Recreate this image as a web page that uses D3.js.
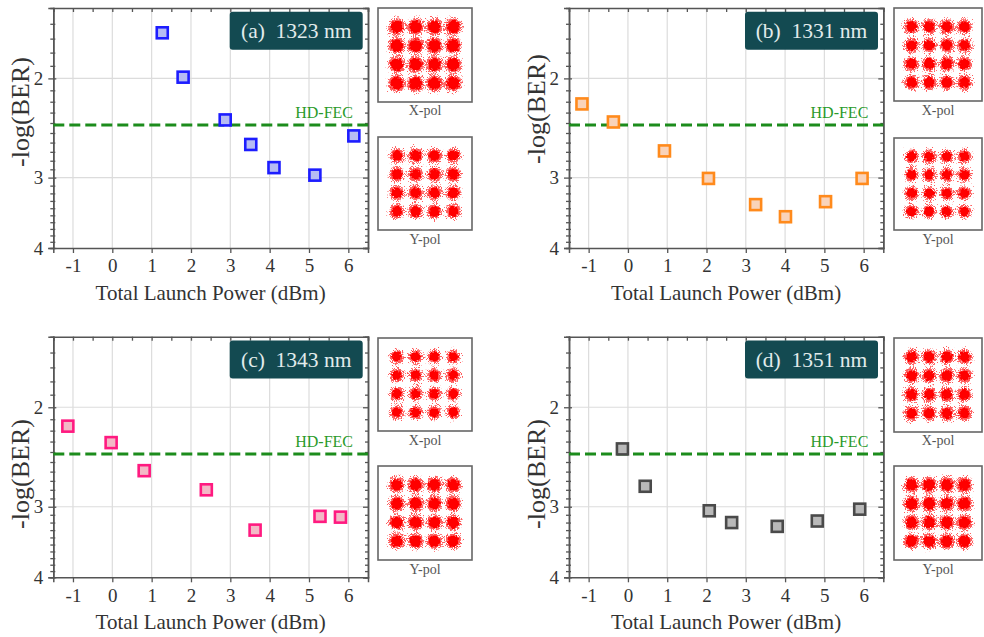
<!DOCTYPE html>
<html><head><meta charset="utf-8">
<script src="https://cdn.jsdelivr.net/npm/d3@7"></script>
<style>body{margin:0;background:#fff} svg{display:block}</style>
</head><body>
<svg id="c" width="984" height="637"></svg>
<script>
// ---------- data ----------
const xTickValues = [-1, 0, 1, 2, 3, 4, 5, 6];
const xMinorValues = [-1.5, -0.5, 0.5, 1.5, 2.5, 3.5, 4.5, 5.5, 6.5];
const yTickValues = [2, 3, 4];
const yMinorValues = [1.6, 1.7, 1.8, 1.9, 2.1, 2.2, 2.3, 2.4, 2.5, 2.6, 2.7, 2.8, 2.9, 3.1, 3.2, 3.3, 3.4, 3.5, 3.6, 3.7, 3.8, 3.9];
const hdFecLevel = 2.42;
const panelTitles = ["(a)  1323 nm", "(b)  1331 nm", "(c)  1343 nm", "(d)  1351 nm"];
const powerA = [1.27, 1.80, 2.87, 3.52, 4.11, 5.15, 6.14];
const berA   = [1.66, 1.99, 2.37, 2.62, 2.88, 2.97, 2.53];
const powerB = [-1.17, -0.37, 0.93, 2.05, 3.25, 4.01, 5.03, 5.96];
const berB   = [2.22, 2.39, 2.69, 3.01, 3.35, 3.52, 3.31, 3.01];
const powerC = [-1.13, -0.03, 0.81, 2.39, 3.63, 5.28, 5.80];
const berC   = [2.16, 2.31, 2.59, 2.80, 3.30, 3.12, 3.13];
const powerD = [-0.14, 0.44, 2.07, 2.64, 3.80, 4.82, 5.90];
const berD   = [2.37, 2.76, 3.05, 3.20, 3.25, 3.18, 3.03];
const qamLevels = [-3, -1, 1, 3];
const insetLabels = ["X-pol", "Y-pol"];
const xAxisTitle = "Total Launch Power (dBm)";
const yAxisTitle = "-log(BER)";
const fecLabel = "HD-FEC";

// ---------- layout ----------
const FONT = "'Liberation Serif','Times New Roman',serif";
const svg = d3.select("#c");
const defs = svg.append("defs");

const panels = [
  {px: powerA, py: berA, stroke: "#1d1dff", fill: "#b6bcf3", x0: 53.3, x1: 368, y0: 8, y1: 248,
   ylc: 112, ix: [378, 472], iy: [[8, 102], [137, 230]], il: [115, 244], blob: [8.5, 7.5]},
  {px: powerB, py: berB, stroke: "#ff8a1c", fill: "#f9d3ba", x0: 569, x1: 883.3, y0: 8, y1: 248,
   ylc: 109, ix: [894, 982], iy: [[8, 101], [138, 230]], il: [115, 244], blob: [7.5, 7]},
  {px: powerC, py: berC, stroke: "#ff1a80", fill: "#f3b9c6", x0: 53.3, x1: 368, y0: 336.7, y1: 577.3,
   ylc: 474, ix: [378, 472], iy: [[338, 431], [466, 560]], il: [445, 574], blob: [7, 8]},
  {px: powerD, py: berD, stroke: "#4a4a4a", fill: "#b9b9b9", x0: 569, x1: 883.3, y0: 336.7, y1: 577.3,
   ylc: 474, ix: [894, 982], iy: [[338, 432], [466, 560]], il: [445, 574], blob: [7.5, 8]}
];

panels.forEach((p, pi) => {
  const g = svg.append("g");
  const x = d3.scaleLinear().domain([-1.5, 6.5]).range([p.x0, p.x1]);
  const y = d3.scaleLog().domain([1.5, 4]).range([p.y0, p.y1]);

  // grid
  g.append("g").selectAll("line").data(xTickValues).join("line")
    .attr("x1", d => x(d)).attr("x2", d => x(d)).attr("y1", p.y0).attr("y2", p.y1)
    .attr("stroke", "#dcdcdc").attr("stroke-width", 1.2);
  g.append("g").selectAll("line").data(yTickValues.slice(0, 2)).join("line")
    .attr("x1", p.x0).attr("x2", p.x1).attr("y1", d => y(d)).attr("y2", d => y(d))
    .attr("stroke", "#dcdcdc").attr("stroke-width", 1.2);

  // axes
  const fmt = d => String(d);
  const axL = d3.axisLeft(y).tickValues(yTickValues).tickFormat(fmt).tickSize(5).tickPadding(5);
  const axLm = d3.axisLeft(y).tickValues(yMinorValues).tickFormat("").tickSize(3);
  const axR = d3.axisRight(y).tickValues(yTickValues).tickFormat("").tickSize(-5);
  const axRm = d3.axisRight(y).tickValues(yMinorValues).tickFormat("").tickSize(-3);
  const axB = d3.axisBottom(x).tickValues(xTickValues).tickFormat(fmt).tickSize(5).tickPadding(6);
  const axT = d3.axisTop(x).tickValues(xTickValues.concat(xMinorValues)).tickFormat("").tickSize(-4);

  const style = sel => {
    sel.selectAll("path").attr("stroke", "#555").attr("stroke-width", 1.5);
    sel.selectAll("line").attr("stroke", "#555").attr("stroke-width", 1.3);
    sel.selectAll("text").attr("font-family", FONT).attr("font-size", 19).attr("fill", "#333");
  };
  g.append("g").attr("transform", `translate(${p.x0},0)`).call(axLm).call(style)
    .selectAll("line").attr("x2", -3).attr("x1", 2);
  g.append("g").attr("transform", `translate(${p.x0},0)`).call(axL).call(style)
    .selectAll(".tick line").attr("x1", 3);
  g.append("g").attr("transform", `translate(${p.x1},0)`).call(axRm).call(style);
  g.append("g").attr("transform", `translate(${p.x1},0)`).call(axR).call(style);
  g.append("g").attr("transform", `translate(0,${p.y1})`).call(axB).call(style)
    .selectAll("text").attr("dy", "0.71em");
  g.append("g").attr("transform", `translate(0,${p.y0})`).call(axT).call(style);
  g.selectAll(".domain").attr("stroke", "#555");

  // axis titles
  g.append("text").attr("transform", `translate(${p.x0 - 33},${p.ylc}) rotate(-90)`)
    .attr("text-anchor", "middle").attr("dominant-baseline", "central")
    .attr("font-family", FONT).attr("font-size", 26).attr("fill", "#333").text(yAxisTitle);
  g.append("text").attr("x", (p.x0 + p.x1) / 2).attr("y", p.y1 + 52)
    .attr("text-anchor", "middle").attr("font-family", FONT).attr("font-size", 21)
    .attr("fill", "#333").text(xAxisTitle);

  // HD-FEC line
  g.append("line").attr("x1", p.x0).attr("x2", p.x1).attr("y1", y(hdFecLevel)).attr("y2", y(hdFecLevel))
    .attr("stroke", "#1c8c1c").attr("stroke-width", 3).attr("stroke-dasharray", "11,5");
  g.append("text").attr("x", p.x1 - 15).attr("y", y(hdFecLevel) - 7).attr("text-anchor", "end")
    .attr("font-family", FONT).attr("font-size", 16).attr("fill", "#2a9a2a").text(fecLabel);

  // markers
  const pts = p.px.map((v, i) => ({x: v, y: p.py[i]}));
  g.append("g").selectAll("rect").data(pts).join("rect")
    .attr("x", d => x(d.x) - 5.5).attr("y", d => y(d.y) - 5.5)
    .attr("width", 11).attr("height", 11)
    .attr("fill", p.fill).attr("stroke", p.stroke).attr("stroke-width", 2.6);

  // title box
  const tb = g.append("g").attr("transform", `translate(${p.x1 - 5.3 - 133},${p.y0 + 3.7})`);
  tb.append("rect").attr("width", 133).attr("height", 38).attr("rx", 3)
    .attr("fill", "#134a51");
  tb.append("text").attr("x", 66.5).attr("y", 26.5).attr("text-anchor", "middle")
    .attr("font-family", FONT).attr("font-size", 21.5).attr("fill", "#e2ecec")
    .style("white-space", "pre").text(panelTitles[pi]);

  // constellation insets
  [0, 1].forEach(k => {
    const mk = (id, freq, scale, seed) => {
      const f = defs.append("filter").attr("id", id).attr("x", "-10%").attr("y", "-10%")
        .attr("width", "120%").attr("height", "120%");
      f.append("feTurbulence").attr("type", "fractalNoise").attr("baseFrequency", freq)
        .attr("numOctaves", 2).attr("seed", seed).attr("result", "n");
      f.append("feDisplacementMap").attr("in", "SourceGraphic").attr("in2", "n")
        .attr("scale", scale).attr("xChannelSelector", "R").attr("yChannelSelector", "G");
    };
    const fo = `halo${pi}${k}`, fi = `core${pi}${k}`;
    mk(fo, 1.1, 12, pi * 2 + k + 1);
    mk(fi, 0.5, 5, pi * 2 + k + 11);

    const [bx0, bx1] = p.ix, [by0, by1] = p.iy[k];
    const cx = d3.scaleLinear().domain([-5, 5]).range([bx0, bx1]);
    const cy = d3.scaleLinear().domain([5, -5]).range([by0, by1]);
    const ig = g.append("g");
    ig.append("rect").attr("x", bx0).attr("y", by0).attr("width", bx1 - bx0).attr("height", by1 - by0)
      .attr("fill", "#fff").attr("stroke", "#666").attr("stroke-width", 1.6);
    const cells = [];
    qamLevels.forEach(a => qamLevels.forEach(b => cells.push({i: a, q: b})));
    ig.append("g").attr("filter", `url(#${fo})`).selectAll("circle").data(cells).join("circle")
      .attr("cx", d => cx(d.i)).attr("cy", d => cy(d.q)).attr("r", p.blob[k])
      .attr("fill", "#ff1c1c").attr("opacity", 0.7);
    ig.append("g").attr("filter", `url(#${fi})`).selectAll("circle").data(cells).join("circle")
      .attr("cx", d => cx(d.i)).attr("cy", d => cy(d.q)).attr("r", p.blob[k] - 2.2)
      .attr("fill", "#ff0000");
    ig.append("text").attr("x", (bx0 + bx1) / 2).attr("y", p.il[k]).attr("text-anchor", "middle")
      .attr("font-family", FONT).attr("font-size", 14).attr("fill", "#555").text(insetLabels[k]);
  });
});
</script>
</body></html>
